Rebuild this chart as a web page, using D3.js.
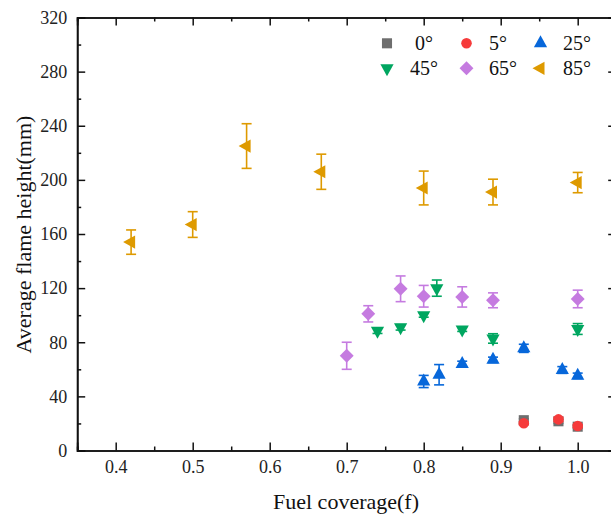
<!DOCTYPE html>
<html>
<head>
<meta charset="utf-8">
<script src="https://cdn.jsdelivr.net/npm/d3@7"></script>
<style>
  html, body { margin: 0; padding: 0; background: #fff; }
  svg { display: block; font-family: "Liberation Serif", "Times New Roman", serif; }
</style>
</head>
<body>
<svg id="chart" width="611" height="522"></svg>
<script>
// ---------------- data ----------------
const seriesNames = ["0°", "5°", "25°", "45°", "65°", "85°"];

const x0 = [0.93, 0.975, 1.00];
const y0 = [22.4, 21.6, 17.6];
const e0 = [1, 1.5, 1];

const x5 = [0.93, 0.975, 1.00];
const y5 = [20.1, 23.0, 18.1];
const e5 = [1, 1.5, 1];

const x25 = [0.80, 0.82, 0.85, 0.89, 0.93, 0.98, 1.00];
const y25 = [51, 56, 64, 67, 75.5, 59.5, 55.2];
const e25 = [4.5, 7.5, 2, 2, 3, 2.5, 2];

const x45 = [0.74, 0.77, 0.80, 0.817, 0.85, 0.89, 1.00];
const y45 = [88.5, 91, 100, 120, 89.5, 82.8, 89.8];
const e45 = [2, 2, 1.5, 6, 1.5, 3.5, 4];

const x65 = [0.70, 0.728, 0.77, 0.80, 0.85, 0.89, 1.00];
const y65 = [70, 101, 119.5, 114, 113.5, 111, 112];
const e65 = [10, 6, 9.5, 8, 7.5, 5.5, 6.5];

const x85 = [0.42, 0.50, 0.57, 0.667, 0.80, 0.89, 1.00];
const y85 = [154, 167, 225, 206, 194, 191, 198];
const e85 = [9, 9.5, 16.5, 13, 12.5, 9.5, 7.5];

const xTicks = [0.4, 0.5, 0.6, 0.7, 0.8, 0.9, 1.0];
const yTicks = [0, 40, 80, 120, 160, 200, 240, 280, 320];

// ---------------- styles ----------------
const colors = ["#6E6E6E", "#F63B3B", "#0767DA", "#00A660", "#C57BE0", "#DE9A00"];
const shapes = ["square", "circle", "up", "down", "diamond", "left"];

const svg = d3.select("#chart");
const margin = { left: 77.2, top: 17.5, bottom: 450.5 };
const x = d3.scaleLinear().domain([0.35, 1.05]).range([margin.left, margin.left + 0.7 * 770]);
const y = d3.scaleLinear().domain([0, 320]).range([margin.bottom, margin.top]);

function shapePath(kind, s) {
  switch (kind) {
    case "square": { const a = s * 0.42; return `M${-a},${-a}H${a}V${a}H${-a}Z`; }
    case "circle": { const r = s * 0.44; return `M${r},0A${r},${r} 0 1,1 ${-r},0A${r},${r} 0 1,1 ${r},0Z`; }
    case "up": { const w = s * 0.55, t = s; return `M0,${-2 * t / 3}L${w},${t / 3}L${-w},${t / 3}Z`; }
    case "down": { const w = s * 0.55, t = s; return `M0,${2 * t / 3}L${w},${-t / 3}L${-w},${-t / 3}Z`; }
    case "diamond": { const a = s * 0.58; return `M0,${-a}L${a},0L0,${a}L${-a},0Z`; }
    case "left": { const w = s, t = s * 0.55; return `M${-2 * w / 3},0L${w / 3},${-t}L${w / 3},${t}Z`; }
  }
}

const allX = [x0, x5, x25, x45, x65, x85];
const allY = [y0, y5, y25, y45, y65, y85];
const allE = [e0, e5, e25, e45, e65, e85];

// ---------------- axes ----------------
const axisG = svg.append("g");
const xMinor = d3.range(0.35, 1.051, 0.05).map(v => +v.toFixed(2)).filter(v => !xTicks.some(t => Math.abs(t - v) < 1e-6));
const yMinor = d3.range(20, 320, 40);

const axBottom = axisG.append("g").attr("transform", `translate(0,${margin.bottom})`)
  .call(d3.axisBottom(x).tickValues(xTicks).tickSize(-8).tickPadding(10).tickFormat(d3.format(".1f")));
axBottom.append("g").call(d3.axisBottom(x).tickValues(xMinor).tickSize(-4).tickFormat(""));
const axTop = axisG.append("g").attr("transform", `translate(0,${margin.top})`)
  .call(d3.axisTop(x).tickValues(xTicks).tickSize(-8).tickFormat(""));
axTop.append("g").call(d3.axisTop(x).tickValues(xMinor).tickSize(-4).tickFormat(""));
const axLeft = axisG.append("g").attr("transform", `translate(${margin.left},0)`)
  .call(d3.axisLeft(y).tickValues(yTicks).tickSize(-8).tickPadding(10).tickFormat(d3.format("d")));
axLeft.append("g").call(d3.axisLeft(y).tickValues(yMinor).tickSize(-4).tickFormat(""));
const axRight = axisG.append("g").attr("transform", `translate(${x(1.05)},0)`)
  .call(d3.axisRight(y).tickValues(yTicks).tickSize(-8).tickFormat(""));
axRight.append("g").call(d3.axisRight(y).tickValues(yMinor).tickSize(-4).tickFormat(""));

axisG.selectAll("path.domain").attr("stroke", "#111").attr("stroke-width", 1.7);
axisG.selectAll(".tick line").attr("stroke", "#111").attr("stroke-width", 1.5);
axisG.selectAll(".tick text").attr("fill", "#222").style("font-size", "18px")
  .style("font-family", "'Liberation Serif', 'Times New Roman', serif");
axBottom.selectAll(".tick text").attr("dy", "0.71em");

// axis titles
svg.append("text").attr("x", 346).attr("y", 509).attr("text-anchor", "middle")
  .style("font-size", "22px").attr("fill", "#111").text("Fuel coverage(f)");
svg.append("text").attr("transform", `translate(31,234.5) rotate(-90)`).attr("text-anchor", "middle")
  .style("font-size", "22px").attr("fill", "#111").text("Average flame height(mm)");

// ---------------- data marks ----------------
const plot = svg.append("g");
const cap = 5;
seriesNames.forEach((name, i) => {
  const pts = allX[i].map((xv, j) => ({ x: xv, y: allY[i][j], e: allE[i][j] }));
  const g = plot.append("g").attr("class", "series");
  const eb = g.selectAll("g.eb").data(pts).join("g").attr("class", "eb")
    .attr("stroke", colors[i]).attr("stroke-width", 1.6).attr("fill", "none");
  eb.append("line").attr("x1", d => x(d.x)).attr("x2", d => x(d.x))
    .attr("y1", d => y(d.y + d.e)).attr("y2", d => y(d.y - d.e));
  eb.append("line").attr("x1", d => x(d.x) - cap).attr("x2", d => x(d.x) + cap)
    .attr("y1", d => y(d.y + d.e)).attr("y2", d => y(d.y + d.e));
  eb.append("line").attr("x1", d => x(d.x) - cap).attr("x2", d => x(d.x) + cap)
    .attr("y1", d => y(d.y - d.e)).attr("y2", d => y(d.y - d.e));
  g.selectAll("path.mk").data(pts).join("path").attr("class", "mk")
    .attr("d", shapePath(shapes[i], 12))
    .attr("transform", d => `translate(${x(d.x)},${y(d.y)})`)
    .attr("fill", colors[i]);
});

// ---------------- legend ----------------
const legendSymX = [387, 466.5, 540.5];
const legendTextX = [414, 489, 563];
const legendRowY = [43.3, 68.3];
const legend = svg.append("g");
seriesNames.forEach((name, i) => {
  const col = i % 3, row = Math.floor(i / 3);
  legend.append("path").attr("d", shapePath(shapes[i], 12))
    .attr("transform", `translate(${legendSymX[col]},${legendRowY[row]})`)
    .attr("fill", colors[i]);
  legend.append("text")
    .attr("x", legendTextX[col] + (row === 0 && col === 0 ? 1 : (row === 1 && col === 0 ? -4 : 0)))
    .attr("y", legendRowY[row] + 6.8)
    .style("font-size", "20px").attr("fill", "#111").text(name);
});
</script>
</body>
</html>
